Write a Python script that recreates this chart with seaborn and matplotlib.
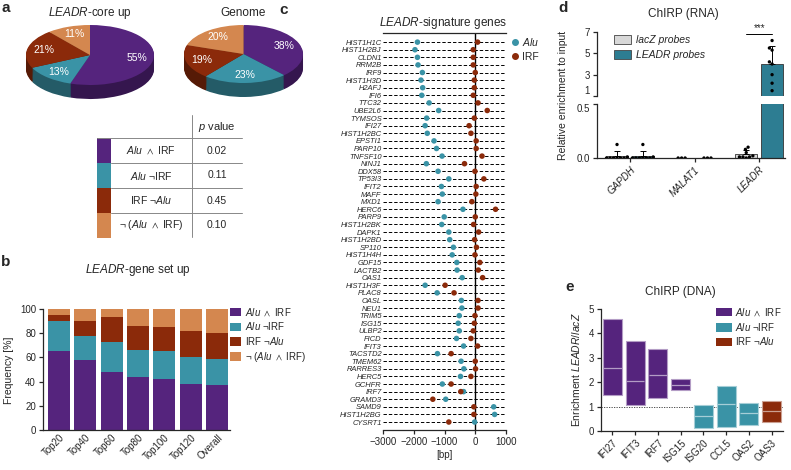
import numpy as np
import pandas as pd
import seaborn as sns
import matplotlib.pyplot as plt
from matplotlib.patches import Patch, Rectangle
from matplotlib.lines import Line2D
from matplotlib.colors import to_rgb

# =====================================================
# DATA
# =====================================================

# a: motif composition (pies) + enrichment p values
group_labels = [r"$\mathit{Alu}\ \wedge\ \mathrm{IRF}$",
                r"$\mathit{Alu}$ ¬IRF",
                r"IRF ¬$\mathit{Alu}$",
                r"¬ ($\mathit{Alu}\ \wedge\ \mathrm{IRF}$)"]
core_up_pct = [55, 13, 21, 11]
genome_pct = [38, 23, 19, 20]
p_values = ["0.02", "0.11", "0.45", "0.10"]

# b: stacked frequency per gene set
gene_sets = ["Top20", "Top40", "Top60", "Top80", "Top100", "Top120", "Overall"]
freq_alu_and_irf = [65, 57.5, 48, 43.5, 42, 38, 37.5]
freq_alu_not_irf = [25, 20, 25, 22.5, 23, 22, 21]
freq_irf_not_alu = [5, 12.5, 20, 20, 20, 21.5, 22]
freq_neither = [5, 10, 7, 14, 15, 18.5, 19.5]

# c: motif position relative to TSS [bp]
sig_genes = ["HIST1H1C", "HIST1H2BJ", "CLDN1", "RRM2B", "IRF9", "HIST1H3D",
             "H2AFJ", "IFI6", "TTC32", "UBE2L6", "TYMSOS", "IFI27", "HIST1H2BC",
             "EPSTI1", "PARP10", "TNFSF10", "NINJ1", "DDX58", "TP53I3", "IFIT2",
             "MAFF", "MXD1", "HERC6", "PARP9", "HIST1H2BK", "DAPK1",
             "HIST1H2BD", "SP110", "HIST1H4H", "GDF15", "LACTB2", "OAS1",
             "HIST1H3F", "PLAC8", "OASL", "NEU1", "TRIM5", "ISG15", "ULBP2",
             "FICD", "IFIT3", "TACSTD2", "TMEM62", "RARRES3", "HERC5", "GCHFR",
             "IRF7", "GRAMD3", "SAMD9", "HIST1H2BG", "CYSRT1"]
alu_bp = [-1880, -1960, -1880, -1860, -1720, -1765, -1710, -1740, -1500, -1190,
          -1580, -1630, -1560, -1340, -1260, -1080, -1590, -1210, -860, -1100,
          -1070, -1210, -400, -1010, -1090, -860, -830, -710, -750, -600,
          -590, -425, -1630, -1240, -450, -435, -520, -555, -520, -610,
          -380, -1230, -460, -370, -480, -1070, -380, -960, 600, 630, -20]
irf_bp = [76, -65, -65, -65, 0, -30, -30, -65, 90, 390,
          -30, -200, -140, 30, 30, 220, -350, -10, 280, 30,
          20, -110, 660, 0, -55, 110, -20, 40, -10, 150,
          100, 240, -980, -690, 90, 90, -10, -30, -65, -140,
          76, -785, 0, 10, -140, -785, -470, -1380, -45, -45, -860]

# d: ChIRP RNA enrichment (replicates)
rna_targets = ["GAPDH", "MALAT1", "LEADR"]
lacz_gapdh = [0.125, 0.01, 0, 0, 0, 0, 0, 0]
lacz_malat1 = [0, 0, 0]
lacz_leadr = [0.10, 0.08, 0.05, 0.02, 0.01, 0.01, 0.01, 0.0]
leadr_gapdh = [0.125, 0.01, 0, 0, 0, 0, 0, 0]
leadr_malat1 = [0, 0, 0]
leadr_leadr = [6.2, 5.5, 5.3, 4.2, 4.0, 3.0, 2.2, 1.5]

# e: ChIRP DNA enrichment (min / mean / max)
dna_genes = ["IFI27", "IFIT3", "IRF7", "ISG15", "ISG20", "CCL5", "OAS2", "OAS3"]
dna_group = [0, 0, 0, 0, 1, 1, 1, 2]
dna_min = [1.49, 1.05, 1.36, 1.67, 0.14, 0.16, 0.26, 0.37]
dna_mean = [2.58, 2.03, 2.30, 1.90, 0.60, 1.10, 0.73, 0.81]
dna_max = [4.60, 3.68, 3.38, 2.12, 1.07, 1.86, 1.16, 1.25]

# =====================================================
# STYLE
# =====================================================

PURPLE = "#55247D"
TEAL = "#3A93A6"
RUST = "#8B2A0A"
TAN = "#D4874F"
GROUP_COLORS = [PURPLE, TEAL, RUST, TAN]
PROBE_TEAL = "#2D7D92"
LACZ_GREY = "#D8D8D8"

sns.set_theme(style="ticks")
plt.rcParams["font.family"] = ["Liberation Sans", "DejaVu Sans"]
plt.rcParams["mathtext.fontset"] = "custom"
plt.rcParams["mathtext.rm"] = "Liberation Sans"
plt.rcParams["mathtext.it"] = "Liberation Sans:italic"
plt.rcParams["mathtext.bf"] = "Liberation Sans:bold"
plt.rcParams["mathtext.fallback"] = "stixsans"
plt.rcParams["axes.linewidth"] = 0.9
plt.rcParams["xtick.major.width"] = 0.9
plt.rcParams["ytick.major.width"] = 0.9

W, H = 791, 470
fig = plt.figure(figsize=(W / 100, H / 100), dpi=100)


def box(l, t, r, b):
    return [l / W, 1 - b / H, (r - l) / W, (b - t) / H]


def ftext(x, y, s, **kw):
    fig.text(x / W, 1 - y / H, s, **kw)


def style_ticks(ax):
    ax.tick_params(direction="out", length=3, labelsize=7, pad=2)


# overlay in pixel coordinates for the table and labels
ov = fig.add_axes([0, 0, 1, 1])
ov.set_xlim(0, W)
ov.set_ylim(H, 0)
ov.axis("off")

# =====================================================
# a: 3D-ish pies
# =====================================================


def pie3d(ax, values, depth):
    dark = [tuple(c * 0.62 for c in to_rgb(col)) for col in GROUP_COLORS]
    for off in np.linspace(-depth, 0, 16)[:-1]:
        ax.pie(values, colors=dark, startangle=90, counterclock=False,
               center=(0, off), wedgeprops=dict(linewidth=0))
    ax.pie(values, colors=GROUP_COLORS, startangle=90, counterclock=False,
           autopct=lambda p: f"{p:.0f}%", pctdistance=0.74,
           wedgeprops=dict(linewidth=0),
           textprops=dict(color="white", fontsize=7.5))
    ax.set_aspect("auto")
    ax.set_xlim(-1, 1)
    ax.set_ylim(-1 - depth, 1)
    ax.axis("off")


pie3d(fig.add_axes(box(26, 25, 154, 99)), core_up_pct, 14 / 30)
pie3d(fig.add_axes(box(184, 25, 303, 97)), genome_pct, 14 / 29)
ftext(90, 13, r"$\mathit{LEADR}$-core up", ha="center", va="center",
      fontsize=8.5)
ftext(243, 13, "Genome", ha="center", va="center", fontsize=8.5)

# table
row_tops = [138, 163, 188, 213]
ov.plot([192, 192], [115, 237], color="#888888", lw=0.7)
ov.plot([97, 242], [138, 138], color="#888888", lw=0.7)
for yt in row_tops[1:]:
    ov.plot([111, 242], [yt, yt], color="#888888", lw=0.7)
ov.text(217, 127, r"$\mathit{p}$ value", ha="center", va="center", fontsize=8)
for yt, col, lab, pv in zip(row_tops, GROUP_COLORS, group_labels, p_values):
    ov.add_patch(Rectangle((97, yt), 14, 24.5, color=col, lw=0))
    ov.text(151, yt + 12.5, lab, ha="center", va="center", fontsize=7.5)
    ov.text(217, yt + 12.5, pv, ha="center", va="center", fontsize=7.5)

# =====================================================
# b: stacked bars
# =====================================================

axb = fig.add_axes(box(43, 309, 230, 430))
stack = np.cumsum(np.array([freq_alu_and_irf, freq_alu_not_irf,
                            freq_irf_not_alu, freq_neither]), axis=0)
for level in range(3, -1, -1):
    sns.barplot(x=gene_sets, y=stack[level], color=GROUP_COLORS[level],
                saturation=1, width=0.84, linewidth=0, ax=axb)
axb.set_xlim(-0.61, 6.49)
axb.set_ylim(0, 100)
axb.set_yticks([0, 20, 40, 60, 80, 100])
sns.despine(ax=axb)
style_ticks(axb)
axb.tick_params(axis="x", length=0)
plt.setp(axb.get_xticklabels(), rotation=45, ha="right",
         rotation_mode="anchor")
axb.set_xlabel("")
ftext(138, 270, r"$\mathit{LEADR}$-gene set up", ha="center", va="center",
      fontsize=8.5)
ftext(9, 370, "Frequency [%]", rotation=90, ha="center", va="center",
      fontsize=7.5)
fig.legend([Patch(color=c, lw=0) for c in GROUP_COLORS], group_labels,
           loc="upper left", bbox_to_anchor=(230 / W, 1 - 306 / H),
           frameon=False, fontsize=7, handlelength=1.1, handleheight=1.0,
           handletextpad=0.4, labelspacing=0.28, borderpad=0,
           borderaxespad=0)

# =====================================================
# c: dot plot of motif positions
# =====================================================

axc = fig.add_axes(box(383, 33, 506, 430))
df_c = pd.DataFrame({
    "gene": sig_genes * 2,
    "bp": alu_bp + irf_bp,
    "motif": ["Alu"] * len(sig_genes) + ["IRF"] * len(sig_genes),
})
axc.hlines(np.arange(len(sig_genes)), -3000, 1000, colors="black",
           linestyles=(0, (3.5, 2)), lw=0.7, zorder=1)
axc.axvline(0, color="black", lw=1, zorder=2)
sns.stripplot(data=df_c, x="bp", y="gene", hue="motif", order=sig_genes,
              hue_order=["Alu", "IRF"], palette=[TEAL, RUST], jitter=False,
              size=4, linewidth=0, legend=False, ax=axc, zorder=3)
axc.set_xlim(-3000, 1000)
axc.set_ylim(len(sig_genes) + 0.05, -1.2)
axc.set_xticks([-3000, -2000, -1000, 0, 1000])
axc.set_xticklabels(["\u22123000", "\u22122000", "\u22121000", "0", "1000"])
for side in ["left", "right"]:
    axc.spines[side].set_visible(False)
style_ticks(axc)
axc.tick_params(axis="y", length=0, labelsize=5.4, pad=1)
plt.setp(axc.get_yticklabels(), style="italic")
axc.set_ylabel("")
axc.set_xlabel("[bp]", fontsize=7, labelpad=2)
ftext(443, 23, r"$\mathit{LEADR}$-signature genes", ha="center",
      va="center", fontsize=8.5)
fig.legend([Line2D([], [], marker="o", ls="", color=TEAL, markersize=4),
            Line2D([], [], marker="o", ls="", color=RUST, markersize=4)],
           [r"$\mathit{Alu}$", "IRF"], loc="upper left",
           bbox_to_anchor=(511 / W, 1 - 36 / H), frameon=False, fontsize=7.5,
           handlelength=0.8, handletextpad=0.3, labelspacing=0.35,
           borderpad=0, borderaxespad=0)

# =====================================================
# d: ChIRP (RNA), broken axis
# =====================================================

rows = []
for probe, groups in [("lacZ", [lacz_gapdh, lacz_malat1, lacz_leadr]),
                      ("LEADR", [leadr_gapdh, leadr_malat1, leadr_leadr])]:
    for target, vals in zip(rna_targets, groups):
        for v in vals:
            rows.append((target, probe, v))
df_d = pd.DataFrame(rows, columns=["target", "probe", "value"])
stats = df_d.groupby(["probe", "target"])["value"].agg(["mean", "std"])

axd_up = fig.add_axes(box(597, 32, 785, 96))
axd_lo = fig.add_axes(box(597, 104, 785, 158))
for ax in [axd_up, axd_lo]:
    sns.barplot(data=df_d, x="target", y="value", hue="probe",
                order=rna_targets, hue_order=["lacZ", "LEADR"],
                palette=[LACZ_GREY, PROBE_TEAL], saturation=1, errorbar=None,
                width=0.8, gap=0.15, edgecolor="#333333", linewidth=0.6,
                legend=False, ax=ax)
    bars = list(ax.containers)
    for h, probe in enumerate(["lacZ", "LEADR"]):
        for i, target in enumerate(rna_targets):
            m, s = stats.loc[(probe, target)]
            if s > 0:
                bar = bars[h][i]
                ax.errorbar(bar.get_x() + bar.get_width() / 2, m,
                            yerr=[[0], [s]], fmt="none", ecolor="black",
                            elinewidth=0.7, capsize=2.5, capthick=0.7,
                            zorder=4)
    sns.swarmplot(data=df_d, x="target", y="value", hue="probe",
                  order=rna_targets, hue_order=["lacZ", "LEADR"], dodge=True,
                  palette=["black", "black"], size=2.4, legend=False,
                  warn_thresh=1, ax=ax, zorder=5)
    ax.set_xlim(-0.51, 2.4)
    ax.set_xlabel("")
    ax.set_ylabel("")
    sns.despine(ax=ax)
    style_ticks(ax)

axd_up.set_ylim(1, 7)
axd_up.set_yticks([1, 3, 5, 7])
axd_up.spines["bottom"].set_visible(False)
axd_up.tick_params(axis="x", bottom=False, labelbottom=False)
axd_up.get_yticklabels()[0].set_va("bottom")
axd_up.plot([1.8, 2.2], [6.85, 6.85], color="black", lw=0.7, clip_on=False)
axd_up.text(2.0, 6.9, "***", ha="center", va="bottom", fontsize=7)

axd_lo.set_ylim(0, 0.5)
axd_lo.set_yticks([0, 0.5])
axd_lo.set_yticklabels(["0.0", "0.5"])
axd_lo.get_yticklabels()[1].set_va("top")
plt.setp(axd_lo.get_xticklabels(), rotation=45, ha="right",
         rotation_mode="anchor", style="italic")

ftext(683, 14, "ChIRP (RNA)", ha="center", va="center", fontsize=8.5)
ftext(563, 95, "Relative enrichment to input", rotation=90, ha="center",
      va="center", fontsize=7.5)
fig.legend([Patch(facecolor=LACZ_GREY, edgecolor="#444444", lw=0.6),
            Patch(facecolor=PROBE_TEAL, edgecolor="#444444", lw=0.6)],
           ["lacZ probes", "LEADR probes"], loc="upper left",
           bbox_to_anchor=(614 / W, 1 - 35 / H), frameon=False,
           prop=dict(style="italic", size=7.5), handlelength=1.6,
           handleheight=1.0, handletextpad=0.5, labelspacing=0.45,
           borderpad=0, borderaxespad=0)

# =====================================================
# e: ChIRP (DNA) floating bars
# =====================================================

axe = fig.add_axes(box(601, 309, 783, 431))
xpos = np.arange(len(dna_genes))
face = [GROUP_COLORS[g] for g in dna_group]
edge = [tuple(0.55 + 0.45 * c for c in to_rgb(f)) for f in face]
axe.axhline(1, color="#333333", lw=0.6, ls=(0, (1.5, 1.5)), zorder=0)
axe.bar(xpos, np.array(dna_max) - np.array(dna_min), bottom=dna_min,
        width=0.83, color=face, edgecolor=edge, linewidth=0.8, zorder=2)
axe.hlines(dna_mean, xpos - 0.41, xpos + 0.41, colors=edge, lw=0.9, zorder=3)
axe.set_xticks(xpos)
axe.set_xticklabels(dna_genes)
axe.set_xlim(-0.5, 7.5)
axe.set_ylim(0, 5)
axe.set_yticks([0, 1, 2, 3, 4, 5])
sns.despine(ax=axe)
style_ticks(axe)
plt.setp(axe.get_xticklabels(), rotation=45, ha="right",
         rotation_mode="anchor")
ftext(680, 292, "ChIRP (DNA)", ha="center", va="center", fontsize=8.5)
ftext(576, 370, r"Enrichment $\mathit{LEADR/lacZ}$", rotation=90,
      ha="center", va="center", fontsize=7.5)
fig.legend([Patch(color=c, lw=0) for c in GROUP_COLORS[:3]],
           group_labels[:3], loc="upper left",
           bbox_to_anchor=(716 / W, 1 - 306 / H), frameon=False, fontsize=7,
           handlelength=1.6, handleheight=1.0, handletextpad=0.4,
           labelspacing=0.3, borderpad=0, borderaxespad=0)

# =====================================================
# PANEL LETTERS + SAVE
# =====================================================

for letter, x, y in [("a", 6, 8), ("b", 6, 262), ("c", 284, 10),
                     ("d", 563, 8), ("e", 570, 287)]:
    ftext(x, y, letter, ha="center", va="center", fontsize=11,
          fontweight="bold")

fig.savefig("out.png", dpi=100)
plt.close(fig)
